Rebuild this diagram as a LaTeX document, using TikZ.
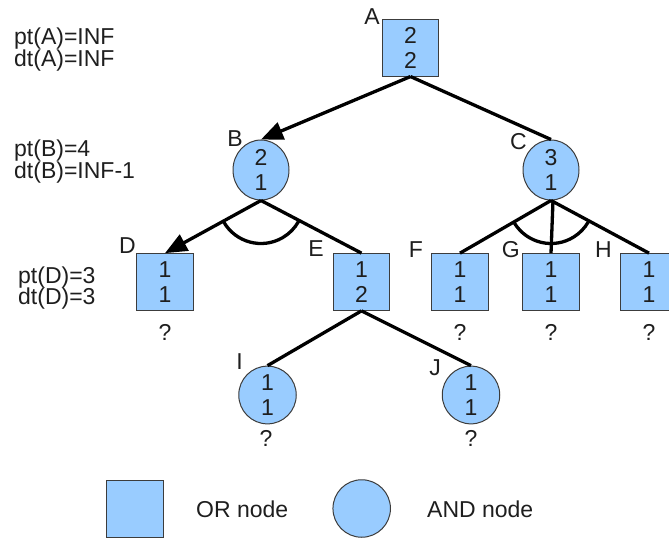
\documentclass[tikz,border=0pt]{standalone}
\usepackage{fontspec}
\setmainfont{Liberation Sans}
\usetikzlibrary{arrows.meta,calc,shapes.geometric}
\definecolor{nodefill}{HTML}{99CCFF}
\definecolor{nodeline}{HTML}{3C3C3C}
\definecolor{textgray}{HTML}{1E1E1E}

\begin{document}
\begin{tikzpicture}[
    x=1pt, y=1pt,
    ornode/.style={
        rectangle,
        draw=nodeline,
        fill=nodefill,
        line width=1pt,
        minimum width=56.7pt,
        minimum height=56.7pt,
        align=center,
        inner sep=0pt,
        text=textgray,
        font=\fontsize{23}{25}\selectfont
    },
    andnode/.style={
        ellipse,
        draw=nodeline,
        fill=nodefill,
        line width=1pt,
        minimum width=57.5pt,
        minimum height=57.5pt,
        align=center,
        inner sep=0pt,
        text=textgray,
        font=\fontsize{23}{25}\selectfont
    },
    lbl/.style={anchor=base east, inner sep=0pt, text=textgray, font=\fontsize{23}{25}\selectfont},
    note/.style={anchor=base west, inner sep=0pt, text=textgray, font=\fontsize{23}{25}\selectfont},
    unknown/.style={anchor=base, inner sep=0pt, text=textgray, font=\fontsize{23}{25}\selectfont},
    link/.style={line width=3.3pt},
    arrow/.style={-{Triangle[length=22pt,width=18pt]}, line width=3.3pt}
]
\useasboundingbox (0,0) rectangle (669,-540);

\node[note] (ptA) at (14,-45) {pt(A)=INF};
\node[note] (dtA) at (14,-66.7) {dt(A)=INF};
\node[note] (ptB) at (14,-156.6) {pt(B)=4};
\node[note] (dtB) at (14,-178.3) {dt(B)=INF-1};
\node[note] (ptD) at (18,-283.3) {pt(D)=3};
\node[note] (dtD) at (18,-304.3) {dt(D)=3};

\node[ornode] (A) at (410.5,-47.7) {2\\2};
\node[andnode, minimum width=56pt, minimum height=60pt] (B) at (261,-170) {2\\1};
\node[andnode, minimum width=56pt, minimum height=60pt] (C) at (551,-170) {3\\1};
\node[ornode] (D) at (165,-282) {1\\1};
\node[ornode] (E) at (361.5,-282) {1\\2};
\node[ornode] (F) at (460,-282) {1\\1};
\node[ornode] (G) at (551,-282) {1\\1};
\node[ornode] (H) at (649,-282) {1\\1};
\node[andnode] (I) at (267.5,-395) {1\\1};
\node[andnode] (J) at (471,-395) {1\\1};

\node[lbl] (labA) at (380,-25) {A};
\node[lbl] (labB) at (243,-146.7) {B};
\node[lbl] (labC) at (527,-150) {C};
\node[lbl] (labD) at (136,-253) {D};
\node[lbl] (labE) at (324,-256.7) {E};
\node[lbl] (labF) at (423,-257) {F};
\node[lbl] (labG) at (520,-257) {G};
\node[lbl] (labH) at (612,-257) {H};
\node[lbl] (labI) at (243,-369) {I};
\node[lbl] (labJ) at (441,-375) {J};

\node[unknown] (qD) at (165,-340) {?};
\node[unknown] (qF) at (460,-340) {?};
\node[unknown] (qG) at (551,-340) {?};
\node[unknown] (qH) at (649,-340) {?};
\node[unknown] (qI) at (266,-446) {?};
\node[unknown] (qJ) at (471,-446) {?};

\draw[arrow] (A.south) -- (B.north);
\draw[link] (A.south) -- (C.north);
\draw[arrow] (B.south) -- (D.north);
\draw[link] (B.south) -- (E.north);
\draw[link] (C.south) -- (F.north);
\draw[link] ([xshift=2pt]C.south) -- (G.north);
\draw[link] (C.south) -- (H.north);
\draw[link] (E.south) -- (I.north);
\draw[link] (E.south) -- (J.north);
\draw[link] ($(B.south)+(210:43pt)$) arc[start angle=210, end angle=331, radius=43pt];
\draw[link] ($(C.south)+(212:43pt)$) arc[start angle=212, end angle=330, radius=43pt];

\node[ornode] (keyor) at (135,-509) {};
\node[note] (keyortext) at (196,-517) {OR node};
\node[andnode] (keyand) at (361.7,-508.5) {};
\node[note] (keyandtext) at (427,-517) {AND node};

\end{tikzpicture}
\end{document}
